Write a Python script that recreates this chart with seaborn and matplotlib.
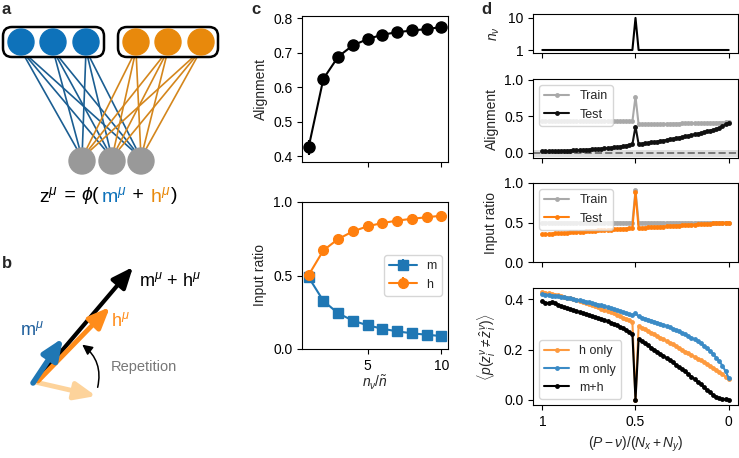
import numpy as np
import matplotlib.pyplot as plt
import seaborn as sns
from matplotlib.patches import Circle, FancyBboxPatch, FancyArrowPatch

# ---------------- dados do painel c
n_ratio = [1, 2, 3, 4, 5, 6, 7, 8, 9, 10]
align_c = [0.426, 0.624, 0.688, 0.721, 0.739, 0.752, 0.759, 0.764, 0.768, 0.774]
align_c_err = [0.022, 0.012, 0.008, 0.006, 0.005, 0.005, 0.004, 0.004, 0.004, 0.004]
ratio_m = [0.488, 0.327, 0.243, 0.193, 0.161, 0.138, 0.120, 0.107, 0.097, 0.088]
ratio_h = [0.503, 0.671, 0.748, 0.800, 0.835, 0.857, 0.873, 0.886, 0.896, 0.907]
ratio_err = [0.012, 0.010, 0.008, 0.007, 0.006, 0.006, 0.005, 0.005, 0.005, 0.005]

# ---------------- dados do painel d  (x = (P - nu)/(Nx + Ny), de 1 ate 0)
x_d = np.linspace(1, 0, 61)

n_nu = [1, 1, 1, 1, 1, 1, 1, 1, 1, 1,
        1, 1, 1, 1, 1, 1, 1, 1, 1, 1,
        1, 1, 1, 1, 1, 1, 1, 1, 1, 1,
        10,
        1, 1, 1, 1, 1, 1, 1, 1, 1, 1,
        1, 1, 1, 1, 1, 1, 1, 1, 1, 1,
        1, 1, 1, 1, 1, 1, 1, 1, 1, 1]

align_train = [0.432, 0.430, 0.431, 0.429, 0.430, 0.431, 0.430, 0.429, 0.430, 0.431,
               0.430, 0.429, 0.430, 0.430, 0.431, 0.430, 0.429, 0.430, 0.431, 0.430,
               0.429, 0.430, 0.430, 0.431, 0.430, 0.429, 0.430, 0.431, 0.430, 0.430,
               0.770,
               0.388, 0.389, 0.390, 0.391, 0.392, 0.393, 0.394, 0.395, 0.396, 0.397,
               0.398, 0.399, 0.400, 0.401, 0.402, 0.403, 0.404, 0.405, 0.406, 0.407,
               0.408, 0.409, 0.410, 0.411, 0.412, 0.413, 0.414, 0.415, 0.416, 0.418]

align_test = [0.020, 0.021, 0.022, 0.023, 0.024, 0.025, 0.027, 0.028, 0.030, 0.032,
              0.034, 0.036, 0.038, 0.040, 0.043, 0.046, 0.049, 0.052, 0.055, 0.058,
              0.062, 0.066, 0.070, 0.075, 0.080, 0.086, 0.092, 0.100, 0.108, 0.118,
              0.360,
              0.120, 0.125, 0.130, 0.136, 0.142, 0.148, 0.155, 0.162, 0.169, 0.176,
              0.184, 0.192, 0.200, 0.208, 0.216, 0.225, 0.234, 0.243, 0.252, 0.262,
              0.272, 0.282, 0.293, 0.304, 0.314, 0.327, 0.341, 0.362, 0.388, 0.415]

ratio_train = [0.50, 0.50, 0.50, 0.50, 0.50, 0.50, 0.50, 0.50, 0.50, 0.50,
               0.50, 0.50, 0.50, 0.50, 0.50, 0.50, 0.50, 0.50, 0.50, 0.50,
               0.50, 0.50, 0.50, 0.50, 0.50, 0.50, 0.50, 0.50, 0.50, 0.50,
               0.91,
               0.50, 0.50, 0.50, 0.50, 0.50, 0.50, 0.50, 0.50, 0.50, 0.50,
               0.50, 0.50, 0.50, 0.50, 0.50, 0.50, 0.50, 0.50, 0.50, 0.50,
               0.50, 0.50, 0.50, 0.50, 0.50, 0.50, 0.50, 0.50, 0.50, 0.50]

ratio_test = [0.350, 0.353, 0.356, 0.358, 0.361, 0.364, 0.367, 0.369, 0.372, 0.375,
              0.378, 0.380, 0.383, 0.386, 0.389, 0.391, 0.394, 0.397, 0.400, 0.402,
              0.405, 0.408, 0.410, 0.413, 0.416, 0.419, 0.421, 0.424, 0.427, 0.430,
              0.880,
              0.430, 0.432, 0.435, 0.437, 0.440, 0.442, 0.444, 0.447, 0.449, 0.452,
              0.454, 0.456, 0.459, 0.461, 0.464, 0.466, 0.468, 0.471, 0.473, 0.476,
              0.478, 0.480, 0.483, 0.485, 0.488, 0.490, 0.492, 0.495, 0.497, 0.500]

err_h = [0.428, 0.426, 0.423, 0.421, 0.418, 0.415, 0.413, 0.410, 0.406, 0.403,
         0.399, 0.395, 0.391, 0.387, 0.384, 0.380, 0.376, 0.372, 0.368, 0.362,
         0.357, 0.353, 0.348, 0.343, 0.338, 0.333, 0.327, 0.322, 0.316, 0.310,
         0.000,
         0.293, 0.287, 0.281, 0.274, 0.267, 0.261, 0.254, 0.247, 0.240, 0.234,
         0.227, 0.220, 0.213, 0.206, 0.199, 0.192, 0.185, 0.178, 0.171, 0.164,
         0.157, 0.150, 0.143, 0.135, 0.127, 0.119, 0.111, 0.102, 0.092, 0.082]

err_m = [0.419, 0.418, 0.416, 0.414, 0.413, 0.411, 0.409, 0.407, 0.405, 0.403,
         0.400, 0.398, 0.395, 0.392, 0.390, 0.387, 0.384, 0.381, 0.378, 0.375,
         0.372, 0.368, 0.365, 0.361, 0.357, 0.353, 0.349, 0.345, 0.340, 0.336,
         0.344,
         0.331, 0.327, 0.323, 0.319, 0.315, 0.311, 0.307, 0.302, 0.298, 0.293,
         0.288, 0.283, 0.278, 0.272, 0.266, 0.260, 0.254, 0.247, 0.240, 0.232,
         0.224, 0.215, 0.205, 0.194, 0.182, 0.168, 0.153, 0.136, 0.113, 0.088]

err_mh = [0.393, 0.386, 0.384, 0.387, 0.385, 0.378, 0.372, 0.367, 0.363, 0.359,
          0.356, 0.352, 0.349, 0.345, 0.341, 0.337, 0.333, 0.329, 0.325, 0.321,
          0.317, 0.312, 0.307, 0.302, 0.296, 0.290, 0.284, 0.277, 0.270, 0.262,
          0.000,
          0.240, 0.232, 0.224, 0.216, 0.208, 0.200, 0.192, 0.183, 0.175, 0.166,
          0.158, 0.149, 0.140, 0.131, 0.122, 0.113, 0.103, 0.093, 0.083, 0.072,
          0.062, 0.051, 0.040, 0.030, 0.020, 0.012, 0.006, 0.003, 0.002, 0.001]

# cores
BLUE = "#1f77b4"
ORANGE = "#ff7f0e"
GRAY = "#a9a9a9"

sns.set_style("ticks")
plt.rcParams["font.family"] = ["Liberation Sans", "DejaVu Sans"]
plt.rcParams["font.size"] = 9
plt.rcParams["mathtext.fontset"] = "custom"
plt.rcParams["mathtext.rm"] = "Liberation Sans"
plt.rcParams["mathtext.it"] = "Liberation Sans:italic"
plt.rcParams["mathtext.bf"] = "Liberation Sans:bold"
plt.rcParams["axes.edgecolor"] = "black"
plt.rcParams["xtick.color"] = "black"
plt.rcParams["ytick.color"] = "black"

W, H = 739, 458
fig = plt.figure(figsize=(W / 100, H / 100), dpi=100)


def rect(l, t, r, b):
    # caixa em pixels -> fracao da figura
    return [l / W, 1 - b / H, (r - l) / W, (b - t) / H]


# ---------------- esquemas (a e b), em coordenadas de pixel
sk = fig.add_axes([0, 0, 1, 1])
sk.set_xlim(0, W)
sk.set_ylim(H, 0)
sk.axis("off")

blue_nodes = [21, 53, 86]
orange_nodes = [136, 168, 201]
gray_nodes = [82, 112, 141]
for bx in blue_nodes:
    for gx in gray_nodes:
        sk.plot([bx, gx], [50, 158], color="#1b5e92", lw=1.2, zorder=1)
for ox in orange_nodes:
    for gx in gray_nodes:
        sk.plot([ox, gx], [50, 158], color="#d4861c", lw=1.2, zorder=1)
for bx in blue_nodes:
    sk.add_patch(Circle((bx, 42), 13, color="#0e72ba", zorder=3))
for ox in orange_nodes:
    sk.add_patch(Circle((ox, 42), 13, color="#e8890c", zorder=3))
for gx in gray_nodes:
    sk.add_patch(Circle((gx, 161), 13, color="#999999", zorder=3))
for x0, x1 in [(3, 104), (118, 218)]:
    sk.add_patch(FancyBboxPatch((x0, 27), x1 - x0, 30,
                                boxstyle="round,pad=0,rounding_size=9",
                                fc="white", ec="black", lw=1.8, zorder=2))

# equacao colorida
renderer = fig.canvas.get_renderer()
xe = 39
for s, c in [(r"$\mathrm{z}^{\mu}$", "black"), (" = ", "black"),
             (r"$\phi$(", "black"), (r"$\mathrm{m}^{\mu}$", "#0e72ba"),
             (" + ", "black"), (r"$\mathrm{h}^{\mu}$", "#e8890c"),
             (")", "black")]:
    t = sk.text(xe, 196, s, color=c, fontsize=14, va="center", ha="left")
    xe += t.get_window_extent(renderer).width + 0.5

# painel b: setas
arrows = [((35, 382), (96, 396), "#fdd39b", 3.5),
          ((37, 380), (133, 267), "black", 3.0),
          ((38, 381), (110, 307), "#ff8c1a", 3.5),
          ((33, 383), (63, 338), "#1f77b4", 4.0)]
for p0, p1, c, lw in arrows:
    sk.add_patch(FancyArrowPatch(p0, p1, arrowstyle="-|>,head_length=0.9,head_width=0.38",
                                 mutation_scale=14, color=c, lw=lw, zorder=4,
                                 shrinkA=0, shrinkB=0))
sk.add_patch(FancyArrowPatch((97, 390), (80, 343), connectionstyle="arc3,rad=0.35",
                             arrowstyle="-|>,head_length=0.5,head_width=0.25",
                             mutation_scale=12, color="black", lw=1.1, zorder=4))
sk.text(111, 367, "Repetition", color="#777777", fontsize=10.5, va="center")
sk.text(20, 330, r"$\mathrm{m}^{\mu}$", color="#1f5f9c", fontsize=13, va="center")
sk.text(111, 321, r"$\mathrm{h}^{\mu}$", color="#ff8c1a", fontsize=13, va="center")
sk.text(139, 281, r"$\mathrm{m}^{\mu}$ + $\mathrm{h}^{\mu}$", color="black",
        fontsize=13, va="center")

# letras dos paineis
for lbl, px, py in [("a", 2, 10), ("b", 2, 264), ("c", 251, 10), ("d", 481, 9)]:
    fig.text(px / W, 1 - py / H, lbl, fontsize=12, fontweight="bold", va="center")

# ---------------- painel c
ax_c1 = fig.add_axes(rect(302, 16, 448, 162))
ax_c2 = fig.add_axes(rect(302, 202, 448, 349))

ax_c1.errorbar(n_ratio, align_c, yerr=align_c_err, color="black", marker="o",
               ms=8, lw=1.5, capsize=0)
ax_c1.set_ylim(0.383, 0.806)
ax_c1.set_yticks([0.4, 0.5, 0.6, 0.7, 0.8])
ax_c1.set_xticks([5, 10])
ax_c1.set_xticklabels([])
ax_c1.set_ylabel("Alignment", fontsize=10)

ax_c2.errorbar(n_ratio, ratio_m, yerr=ratio_err, color=BLUE, marker="s",
               ms=7, lw=1.5, capsize=0, label="m")
ax_c2.errorbar(n_ratio, ratio_h, yerr=ratio_err, color=ORANGE, marker="o",
               ms=7, lw=1.5, capsize=0, label="h")
ax_c2.set_ylim(0, 1.0)
ax_c2.set_yticks([0.0, 0.5, 1.0])
ax_c2.set_xticks([5, 10])
ax_c2.set_xlabel(r"$n_\nu/\tilde{n}$", fontsize=10, labelpad=1)
ax_c2.set_ylabel("Input ratio", fontsize=10)
ax_c2.legend(loc="center right", fontsize=9, handlelength=2.2)

for ax in (ax_c1, ax_c2):
    ax.set_xlim(0.55, 10.45)
    ax.tick_params(labelsize=10, length=3.5, width=0.8)

# ---------------- painel d
ax_d1 = fig.add_axes(rect(533, 14, 738, 53))
ax_d2 = fig.add_axes(rect(533, 79, 738, 158))
ax_d3 = fig.add_axes(rect(533, 183, 738, 262))
ax_d4 = fig.add_axes(rect(533, 288, 738, 405))

sns.lineplot(x=x_d, y=n_nu, ax=ax_d1, color="black", lw=1.5)
ax_d1.set_ylim(0.16, 11.1)
ax_d1.set_yticks([1, 10])
ax_d1.set_ylabel(r"$n_\nu$", fontsize=10)

ax_d2.axhline(0, color="#dddddd", lw=5, zorder=0)
ax_d2.axhline(0, color="#777777", lw=1.4, ls="--", zorder=1)
sns.lineplot(x=x_d, y=align_train, ax=ax_d2, color=GRAY, lw=1.5, marker="o",
             markersize=3.5, markeredgewidth=0, label="Train")
sns.lineplot(x=x_d, y=align_test, ax=ax_d2, color="#111111", lw=1.5, marker="o",
             markersize=3.5, markeredgewidth=0, label="Test")
ax_d2.set_ylim(-0.07, 1.01)
ax_d2.set_yticks([0.0, 0.5, 1.0])
ax_d2.set_ylabel("Alignment", fontsize=10)
ax_d2.legend(loc="upper left", fontsize=9)

sns.lineplot(x=x_d, y=ratio_train, ax=ax_d3, color=GRAY, lw=1.5, marker="o",
             markersize=3.5, markeredgewidth=0, label="Train")
sns.lineplot(x=x_d, y=ratio_test, ax=ax_d3, color=ORANGE, lw=1.5, marker="o",
             markersize=3.5, markeredgewidth=0, label="Test")
ax_d3.set_ylim(0, 1.0)
ax_d3.set_yticks([0.0, 0.5, 1.0])
ax_d3.set_ylabel("Input ratio", fontsize=10)
ax_d3.legend(loc="upper left", fontsize=9)

sns.lineplot(x=x_d, y=err_h, ax=ax_d4, color="#fd9a3f", lw=1.5, marker="o",
             markersize=3.5, markeredgewidth=0, label="h only")
sns.lineplot(x=x_d, y=err_m, ax=ax_d4, color="#3b8bc6", lw=1.5, marker="o",
             markersize=3.5, markeredgewidth=0, label="m only")
sns.lineplot(x=x_d, y=err_mh, ax=ax_d4, color="black", lw=1.5, marker="o",
             markersize=3.5, markeredgewidth=0, label="m+h")
ax_d4.set_ylim(-0.02, 0.444)
ax_d4.set_yticks([0.0, 0.2, 0.4])
ax_d4.set_ylabel(r"$\langle p(z_i^\nu \neq \hat{z}_i^\nu)\rangle$", fontsize=10)
ax_d4.set_xlabel(r"$(P-\nu)/(N_x+N_y)$", fontsize=10)
ax_d4.legend(loc="lower left", fontsize=9)

for ax in (ax_d1, ax_d2, ax_d3, ax_d4):
    ax.set_xlim(1.05, -0.05)
    ax.set_xticks([1, 0.5, 0])
    ax.tick_params(labelsize=10, length=3.5, width=0.8)
    if ax is not ax_d4:
        ax.set_xticklabels([])
ax_d4.set_xticklabels(["1", "0.5", "0"])

fig.savefig("out.png", dpi=100)
